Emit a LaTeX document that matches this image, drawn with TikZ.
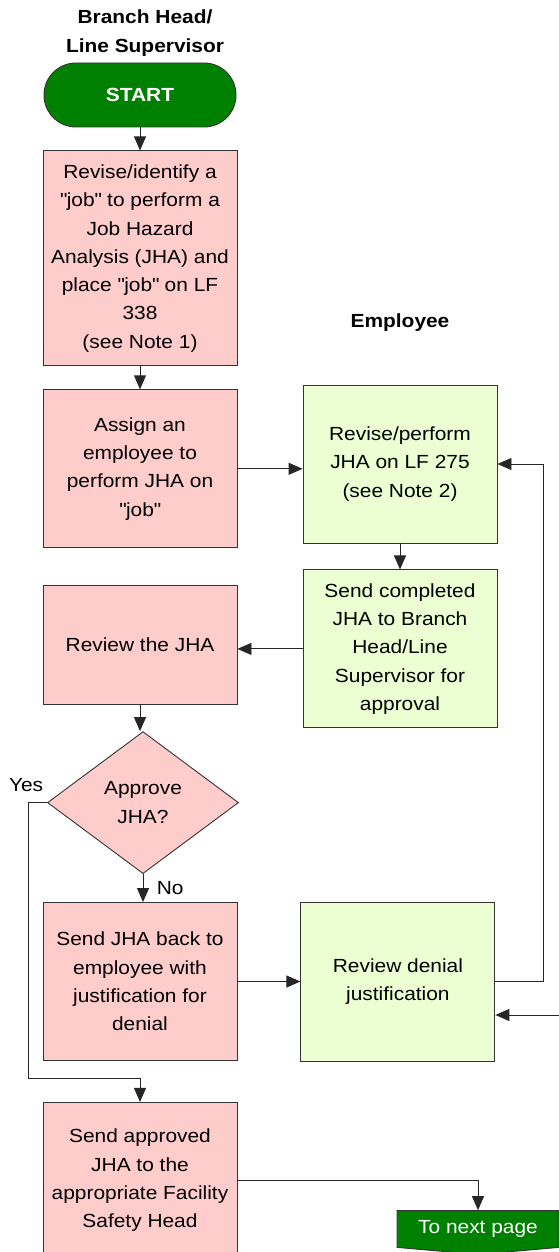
\documentclass[tikz,border=0pt]{standalone}
\usepackage{fontspec}
\setmainfont{Liberation Sans}[FakeStretch=1.1]
\usetikzlibrary{positioning,arrows.meta,calc,shapes.geometric,shapes.symbols}
\definecolor{pinkbox}{RGB}{255,204,204}
\definecolor{greenbox}{RGB}{235,255,210}
\definecolor{termgreen}{RGB}{0,128,0}
\newcommand{\boxfont}{\fontsize{19}{28.3}\selectfont}
\newcommand{\q}{\textquotedbl}
\tikzset{
  >={Triangle[length=14pt,width=12pt]},
  line/.style={draw=black!85,line width=0.9pt},
}

\begin{document}
\begin{tikzpicture}[
  x=1pt,y=1pt,
  every node/.style={font=\boxfont},
  proc/.style={draw=black!80,line width=0.9pt,fill=pinkbox,align=center,
    minimum width=194pt,inner sep=2pt},
  emp/.style={proc,fill=greenbox},
  decide/.style={diamond,draw=black!80,line width=0.9pt,fill=pinkbox,
    align=center,minimum width=191pt,minimum height=142pt,inner sep=0pt},
  term/.style={draw=black!80,line width=0.9pt,fill=termgreen,text=white,
    minimum width=192pt,minimum height=64pt,rounded corners=31.9pt},
  lane/.style={font=\boxfont\bfseries,align=center}
]
\useasboundingbox (0,0) rectangle (559,-1252);

% left lane
\node[term,font=\boxfont\bfseries] (start) at (140,-95) {START};
\node[lane,above=3pt of start,xshift=5pt] (lanebh) {Branch Head/\\Line Supervisor};

\node[proc,minimum height=215pt,below=23pt of start] (ident)
  {Revise/identify a\\\q job\q{} to perform a\\Job Hazard\\Analysis (JHA) and\\place \q job\q{} on LF\\338\\(see Note 1)};
\node[proc,minimum height=158pt,below=23pt of ident] (assign)
  {Assign an\\employee to\\perform JHA on\\\q job\q};
\node[proc,minimum height=119pt,below=37pt of assign] (review)
  {Review the JHA};
\node[decide,below=26pt of review,xshift=3pt] (approve) {Approve\\JHA?};
\node[proc,minimum height=158pt,below=28pt of approve,xshift=-3pt] (sendback)
  {Send JHA back to\\employee with\\justification for\\denial};
\node[proc,minimum height=156pt,below=41pt of sendback] (sendok)
  {Send approved\\JHA to the\\appropriate Facility\\Safety Head};

% right lane
\node[emp,minimum height=158pt] (perform) at (400,-464)
  {Revise/perform\\JHA on LF 275\\(see Note 2)};
\node[lane,above=50pt of perform] (laneemp) {Employee};
\node[emp,minimum height=158pt,below=26pt of perform] (complete)
  {Send completed\\JHA to Branch\\Head/Line\\Supervisor for\\approval};
\node[emp,minimum height=159pt,right=63pt of sendback] (denial)
  {Review denial\\justification};

\node[signal,signal to=south,signal pointer angle=170,draw=black!80,
  line width=0.9pt,fill=termgreen,text=white,minimum width=162pt,
  minimum height=42pt,inner sep=0pt] (nextpage) at (478,-1229) {To next page};

\coordinate (offpage) at (559,-1015);

% connectors
\draw[line,->] (start) -- (ident);
\draw[line,->] (ident) -- (assign);
\draw[line,->] (assign.east) -- (assign.east -| perform.west);
\draw[line,->] (perform) -- (complete);
\draw[line,->] (complete.west) -- (complete.west -| review.east);
\draw[line,->] (review.south) -- (review.south |- approve.north);
\draw[line,->] (approve.south) -- (approve.south |- sendback.north)
  node[pos=0.5,right=10pt] (lblno) {No};
\draw[line,->] (approve.west) -- ++(-19,0) coordinate (yescorner)
  |- ($(sendok.north)+(0,24)$) -- (sendok.north);
\node[above=7pt of yescorner,xshift=-2pt] (lblyes) {Yes};
\draw[line,->] (sendback.east) -- (sendback.east -| denial.west);
\draw[line,->] (denial.east) -- ++(48,0) |- (perform.east);
\draw[line,->] (offpage) -- (offpage -| denial.east);
\draw[line,->] (sendok.east) -| (nextpage.north);

\end{tikzpicture}
\end{document}
